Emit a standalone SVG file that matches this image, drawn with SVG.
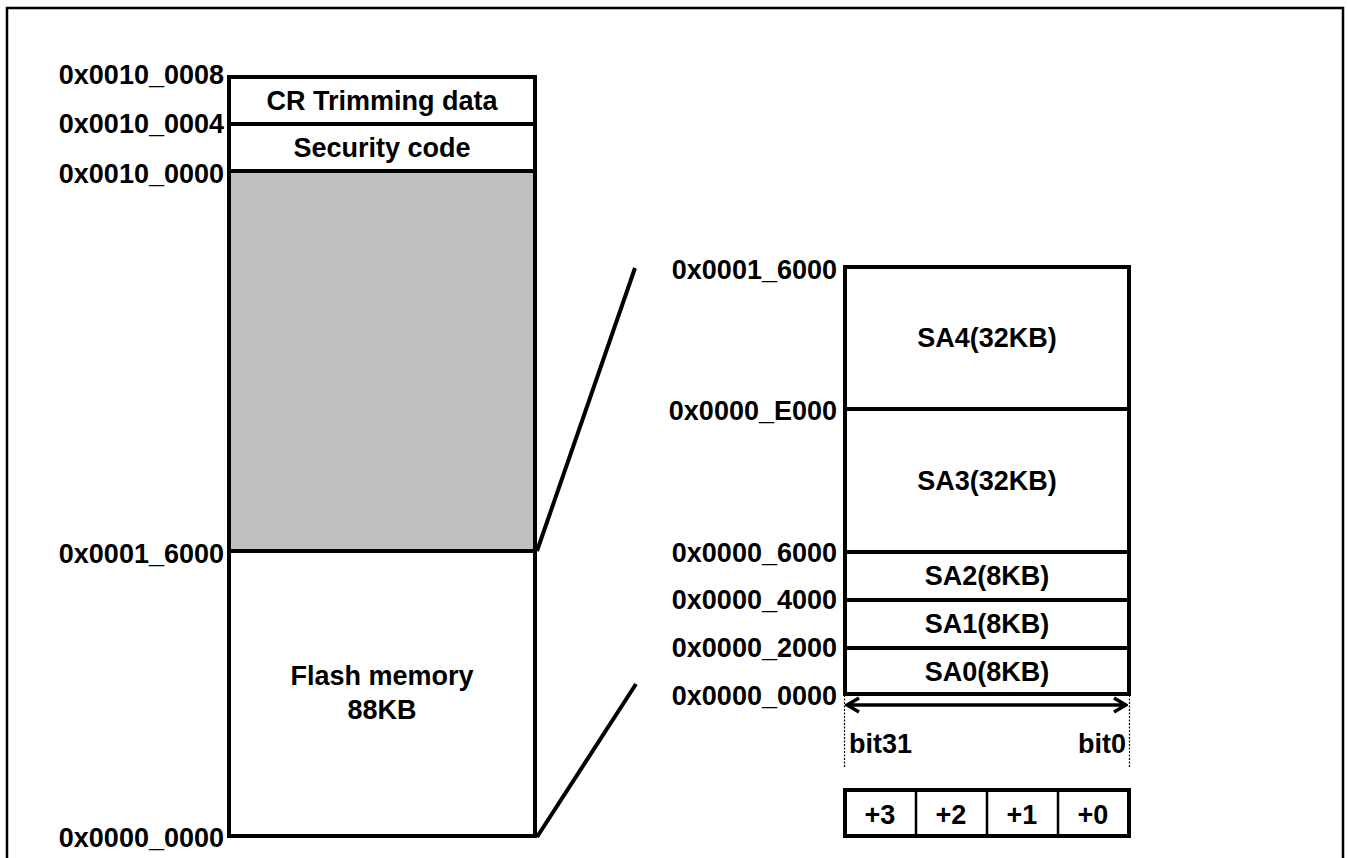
<svg xmlns="http://www.w3.org/2000/svg" width="1348" height="858" viewBox="0 0 1348 858">
<defs>
<style>
text{font-family:"Liberation Sans",Arial,sans-serif;font-weight:bold;font-size:27px;fill:#000}
.r{text-anchor:end}
.m{text-anchor:middle}
.box{fill:#fff;stroke:#000;stroke-width:4}
.ln{stroke:#000;stroke-width:4;fill:none}
.dg{stroke:#000;stroke-width:4;fill:none}
.dv{stroke:#000;stroke-width:2.5}
.dot{stroke:#000;stroke-width:1.2;stroke-dasharray:2,1.5;fill:none}
</style>
<marker id="ah" viewBox="0 0 16 18" refX="14" refY="9" markerWidth="16" markerHeight="18" markerUnits="userSpaceOnUse" orient="auto-start-reverse">
<path d="M2,2 L14,9 L2,16" fill="none" stroke="#000" stroke-width="3.5"/>
</marker>
</defs>
<rect width="1348" height="858" fill="#fff"/>
<path d="M7,860 V8 H1343 V860" fill="none" stroke="#000" stroke-width="2.5"/>

<g id="left-map">
<rect x="229" y="171" width="306" height="380" fill="#c0c0c0"/>
<rect x="229" y="77" width="306" height="759" fill="none" stroke="#000" stroke-width="4"/>
<line class="ln" x1="229" y1="124" x2="535" y2="124"/>
<line class="ln" x1="229" y1="171" x2="535" y2="171"/>
<line class="ln" x1="229" y1="551" x2="535" y2="551"/>
</g>
<g id="cr-trimming"><text class="m" x="382" y="110">CR Trimming data</text></g>
<g id="security-code"><text class="m" x="382" y="157">Security code</text></g>
<g id="flash-memory"><text class="m" x="382" y="685">Flash memory</text><text class="m" x="382" y="719">88KB</text></g>
<g id="left-labels">
<text class="r" x="224" y="84">0x0010_0008</text>
<text class="r" x="224" y="133">0x0010_0004</text>
<text class="r" x="224" y="183">0x0010_0000</text>
<text class="r" x="224" y="563">0x0001_6000</text>
<text class="r" x="224" y="847">0x0000_0000</text>
</g>

<g id="connectors">
<line class="dg" x1="537" y1="551" x2="635" y2="268"/>
<line class="dg" x1="537" y1="837" x2="636" y2="684"/>
<line class="ln" x1="847" y1="705" x2="1126" y2="705" marker-start="url(#ah)" marker-end="url(#ah)" style="stroke-width:3.5"/>
<line class="dot" x1="844.5" y1="695" x2="844.5" y2="768"/>
<line class="dot" x1="1129.5" y1="695" x2="1129.5" y2="768"/>
</g>

<g id="right-map">
<rect class="box" x="845" y="267" width="284" height="427"/>
<line class="ln" x1="845" y1="409" x2="1129" y2="409"/>
<line class="ln" x1="845" y1="552" x2="1129" y2="552"/>
<line class="ln" x1="845" y1="600" x2="1129" y2="600"/>
<line class="ln" x1="845" y1="648" x2="1129" y2="648"/>
</g>
<g id="sa4"><text class="m" x="987" y="347">SA4(32KB)</text></g>
<g id="sa3"><text class="m" x="987" y="490">SA3(32KB)</text></g>
<g id="sa2"><text class="m" x="987" y="585">SA2(8KB)</text></g>
<g id="sa1"><text class="m" x="987" y="633">SA1(8KB)</text></g>
<g id="sa0"><text class="m" x="987" y="681">SA0(8KB)</text></g>
<g id="right-labels">
<text class="r" x="837" y="279">0x0001_6000</text>
<text class="r" x="837" y="420">0x0000_E000</text>
<text class="r" x="837" y="562">0x0000_6000</text>
<text class="r" x="837" y="609">0x0000_4000</text>
<text class="r" x="837" y="657">0x0000_2000</text>
<text class="r" x="837" y="705">0x0000_0000</text>
</g>
<g id="bits">
<text x="849" y="753">bit31</text>
<text class="r" x="1126" y="753">bit0</text>
</g>
<g id="bytes">
<rect class="box" x="845" y="790" width="284" height="46"/>
<line class="dv" x1="916" y1="790" x2="916" y2="836"/>
<line class="dv" x1="987" y1="790" x2="987" y2="836"/>
<line class="dv" x1="1058" y1="790" x2="1058" y2="836"/>
<text class="m" x="880" y="824">+3</text>
<text class="m" x="951" y="824">+2</text>
<text class="m" x="1022" y="824">+1</text>
<text class="m" x="1093" y="824">+0</text>
</g>
</svg>
